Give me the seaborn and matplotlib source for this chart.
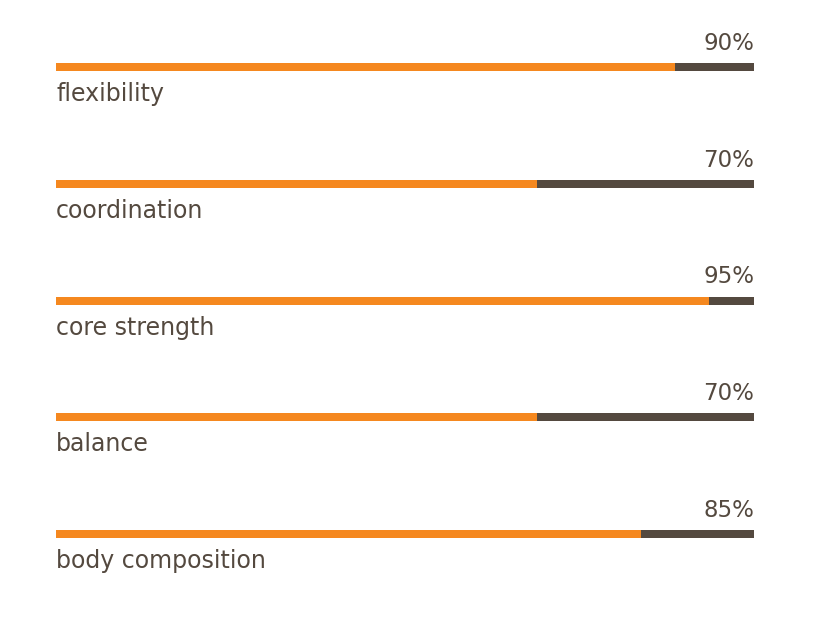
import matplotlib
matplotlib.use("Agg")
import matplotlib.pyplot as plt
import seaborn as sns
import pandas as pd

categories = ["flexibility", "coordination", "core strength", "balance", "body composition"]
values = [90, 70, 95, 70, 85]
pct_labels = ["90%", "70%", "95%", "70%", "85%"]

ORANGE = "#f5881f"
DARK = "#54493f"
TEXT = "#54493f"
TRACK_END = 101.5  # track drawn slightly past 100 as in the original

sns.set_theme(style="white")
plt.rcParams["font.family"] = ["DejaVu Sans"]

df = pd.DataFrame({"category": categories, "value": values})
df["track"] = TRACK_END

fig = plt.figure(figsize=(8.13, 6.17), dpi=100)
ax = fig.add_axes([0, 0, 1, 1])

bar_h = 8 / 116.7
sns.barplot(data=df, x="track", y="category", color=DARK, width=bar_h,
            saturation=1, ax=ax, orient="h", linewidth=0)
sns.barplot(data=df, x="value", y="category", color=ORANGE, width=bar_h,
            saturation=1, ax=ax, orient="h", linewidth=0)

for i, (cat, lab) in enumerate(zip(categories, pct_labels)):
    ax.text(0, i + 0.29, cat, ha="left", va="baseline", fontsize=17,
            color=TEXT)
    ax.text(TRACK_END, i - 0.15, lab, ha="right", va="baseline",
            fontsize=16.5, color=TEXT)

ax.set_xlim(-56 / 698 * TRACK_END, (813 - 56) / 698 * TRACK_END)
ax.set_ylim(4.71, -0.577)
ax.axis("off")

fig.savefig("out.png", dpi=100)
